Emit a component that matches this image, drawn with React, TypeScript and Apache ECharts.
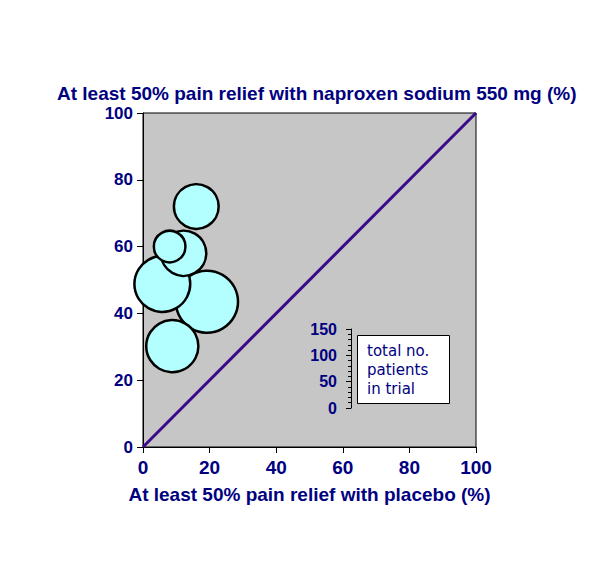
import React, { useEffect, useRef } from "react";
import * as echarts from "echarts";

const placeboPct = [19.2, 5.8, 12.2, 8.0, 16.0, 8.8];
const naproxenPct = [43.5, 48.8, 58.0, 60.0, 72.0, 30.2];
const patients = [118, 106, 86, 60, 85, 99];
const axisTicks = [0, 20, 40, 60, 80, 100];
const diagonal = [[0, 0], [100, 100]];
const legendMax = 150;
const legendTicks = [0, 50, 100, 150];

const TITLE = "At least 50% pain relief with naproxen sodium 550 mg (%)";
const X_NAME = "At least 50% pain relief with placebo (%)";
const LEGEND_TEXT = "total no.\npatients\nin trial";

const NAVY = "#000080";
const LEGEND_TOP = 329;
const LEGEND_H = 79;
const PX_PER_PATIENT = LEGEND_H / legendMax;

export default function App() {
  const ref = useRef<HTMLDivElement>(null);
  useEffect(() => {
    if (!ref.current) return;
    const chart = echarts.init(ref.current, null, { renderer: "svg" });
    const bubbles = placeboPct.map((x, i) => [x, naproxenPct[i], patients[i]]);
    const labelFont = {
      color: NAVY,
      fontWeight: "bold" as const,
      fontFamily: "Liberation Sans, Arial, sans-serif",
      fontSize: 17,
    };
    chart.setOption({
      animation: false,
      backgroundColor: "#ffffff",
      title: {
        text: TITLE,
        left: 57,
        top: 84,
        padding: 0,
        textStyle: { ...labelFont, fontSize: 19 },
      },
      grid: [
        {
          left: 143,
          top: 113,
          width: 333,
          height: 334,
          show: true,
          backgroundColor: "#c6c6c6",
          borderColor: "#000000",
          borderWidth: 1,
        },
        { left: 351, top: LEGEND_TOP, width: 1, height: LEGEND_H, show: false },
      ],
      xAxis: [
        {
          gridIndex: 0,
          type: "value",
          min: axisTicks[0],
          max: axisTicks[axisTicks.length - 1],
          interval: 20,
          name: X_NAME,
          nameLocation: "middle",
          nameGap: 38,
          nameTextStyle: { ...labelFont, fontSize: 19 },
          axisLine: { show: true, lineStyle: { color: "#000", width: 1 } },
          axisTick: { show: true, length: 6, lineStyle: { color: "#000" } },
          axisLabel: { ...labelFont, fontSize: 19, margin: 11 },
          splitLine: { show: false },
        },
        {
          gridIndex: 1,
          type: "value",
          show: false,
          min: 0,
          max: 1,
        },
      ],
      yAxis: [
        {
          gridIndex: 0,
          type: "value",
          min: axisTicks[0],
          max: axisTicks[axisTicks.length - 1],
          interval: 20,
          axisLine: { show: true, lineStyle: { color: "#000", width: 1 } },
          axisTick: { show: true, length: 6, lineStyle: { color: "#000" } },
          axisLabel: { ...labelFont, margin: 10 },
          splitLine: { show: false },
        },
        {
          gridIndex: 1,
          type: "value",
          min: legendTicks[0],
          max: legendMax,
          interval: 50,
          axisLine: { show: true, lineStyle: { color: "#000", width: 1 } },
          axisTick: { show: true, length: 5, lineStyle: { color: "#000" } },
          minorTick: { show: true, splitNumber: 5, length: 3, lineStyle: { color: "#000" } },
          axisLabel: { ...labelFont, fontSize: 16, margin: 14 },
          splitLine: { show: false },
        },
      ],
      graphic: [
        {
          type: "rect",
          left: 357,
          top: 335,
          shape: { width: 92, height: 68 },
          style: { fill: "#ffffff", stroke: "#000000", lineWidth: 1 },
          z: 10,
        },
        {
          type: "text",
          left: 367,
          top: 341,
          style: {
            text: LEGEND_TEXT,
            fill: NAVY,
            font: "15px 'DejaVu Sans', Verdana, sans-serif",
            lineHeight: 19,
          },
          z: 11,
        },
      ],
      series: [
        {
          type: "line",
          xAxisIndex: 0,
          yAxisIndex: 0,
          data: diagonal,
          showSymbol: false,
          lineStyle: { color: "#3a0a8a", width: 3 },
          z: 2,
        },
        {
          type: "scatter",
          xAxisIndex: 0,
          yAxisIndex: 0,
          data: bubbles,
          symbolSize: (v: number[]) => v[2] * PX_PER_PATIENT,
          itemStyle: { color: "#b3ffff", borderColor: "#000000", borderWidth: 2.5, opacity: 1 },
          z: 3,
        },
      ],
    });
    return () => chart.dispose();
  }, []);
  return (
    <div
      ref={ref}
      style={{ position: "fixed", left: 0, top: 0, width: 600, height: 562 }}
    />
  );
}
